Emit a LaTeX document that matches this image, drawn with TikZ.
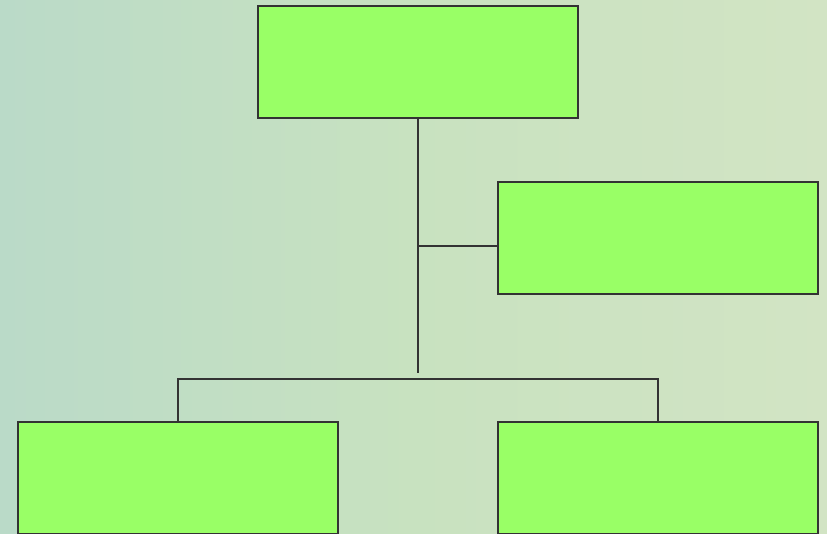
\documentclass[tikz,border=0pt]{standalone}
\definecolor{bgA}{RGB}{186,218,200}
\definecolor{bgB}{RGB}{200,226,192}
\definecolor{bgC}{RGB}{210,228,196}
\definecolor{boxfill}{RGB}{153,255,102}
\definecolor{lineclr}{RGB}{51,51,51}
\tikzset{
  orgbox/.style={draw=lineclr, line width=2pt, fill=boxfill, minimum width=320pt, minimum height=112pt, inner sep=0pt, outer sep=0pt},
  conn/.style={draw=lineclr, line width=2pt}
}
\begin{document}
\begin{tikzpicture}[x=1pt,y=-1pt]
\useasboundingbox (0,0) rectangle (827,533);
\clip (0,0) rectangle (827,533);
\shade[left color=bgA, right color=bgC, middle color=bgB] (0,0) rectangle (827,533);
\node[orgbox] (top) at (418,62) {};
\node[orgbox] (right) at (658,238) {};
\node[orgbox] (bl) at (178,478) {};
\node[orgbox] (br) at (658,478) {};
\coordinate (stem) at (418,373);
\coordinate (junc) at (418,246);
\coordinate (barL) at (178,379);
\coordinate (barR) at (658,379);
\draw[conn] (top.south) -- (stem);
\draw[conn] (junc) -- (right.west |- junc);
\draw[conn] (bl.north) -- (barL) -- (barR) -- (br.north);
\end{tikzpicture}
\end{document}
